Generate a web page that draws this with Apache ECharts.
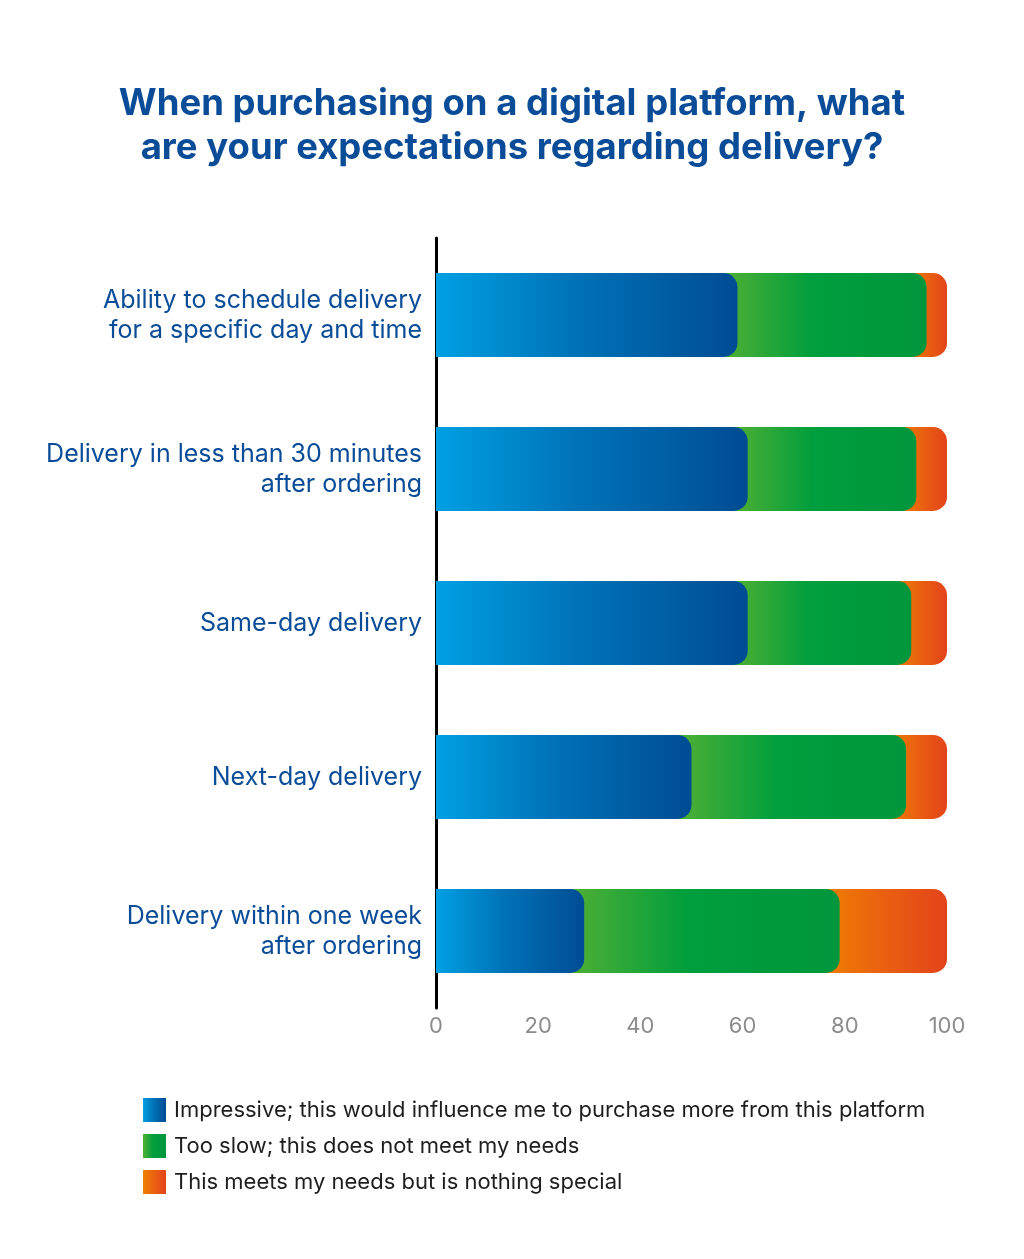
<!DOCTYPE html>
<html>
<head>
<meta charset="utf-8">
<script src="https://cdn.jsdelivr.net/npm/echarts@6/dist/echarts.min.js"></script>
<style>
  html, body { margin: 0; padding: 0; background: #fff; }
  #chart { width: 1024px; height: 1259px; }
</style>
</head>
<body>
<div id="chart"></div>
<script>
// delivery expectations survey, shares in percent
const categories = [
  'Ability to schedule delivery\nfor a specific day and time',
  'Delivery in less than 30 minutes\nafter ordering',
  'Same-day delivery',
  'Next-day delivery',
  'Delivery within one week\nafter ordering'
]
const impressive = [59, 61, 61, 50, 29]
const tooSlow = [37, 33, 32, 42, 50]
const meets = [4, 6, 7, 8, 21]
const xTicks = [0, 20, 40, 60, 80, 100]

const names = [
  'Impressive; this would influence me to purchase more from this platform',
  'Too slow; this does not meet my needs',
  'This meets my needs but is nothing special'
]

const FONT = 'Inter'

function grad (c0, c1, c2) {
  return new echarts.graphic.LinearGradient(0, 0, 1, 0, [
    { offset: 0, color: c0 },
    { offset: 0.45, color: c1 },
    { offset: 1, color: c2 }
  ])
}
const blueGrad = grad('#00a0e3', '#0073b8', '#004c93')
const greenGrad = grad('#52b034', '#009e3d', '#00963d')
const orangeGrad = grad('#f07f00', '#ea6310', '#e3431a')

// segments start..end, each later segment tucked under the rounded end of the one before
function segs (parts) {
  return categories.map((c, i) => {
    let start = 0
    for (let k = 0; k < parts.length - 1; k++) start += parts[k][i]
    return [i, start, start + parts[parts.length - 1][i]]
  })
}

const R = 14
function render (first) {
  return function (params, api) {
    const cat = api.value(0)
    const p0 = api.coord([api.value(1), cat])
    const p1 = api.coord([api.value(2), cat])
    const h = api.size([0, 1])[1] * 0.545
    const ext = first ? 0 : R + 4
    return {
      type: 'rect',
      shape: { x: p0[0] - ext, y: p0[1] - h / 2, width: p1[0] - p0[0] + ext, height: h, r: [0, R, R, 0] },
      style: api.style()
    }
  }
}

const chart = echarts.init(document.getElementById('chart'))
chart.setOption({
  animation: false,
  title: {
    text: 'When purchasing on a digital platform, what\nare your expectations regarding delivery?',
    left: 'center',
    top: 77,
    textStyle: {
      fontFamily: FONT,
      fontWeight: 'bold',
      fontSize: 36.5,
      lineHeight: 44,
      color: '#0a4c97'
    }
  },
  legend: {
    orient: 'vertical',
    left: 138,
    top: 1093,
    itemWidth: 23,
    itemHeight: 24,
    itemGap: 12,
    icon: 'rect',
    data: names,
    textStyle: { fontFamily: FONT, fontSize: 22, color: '#1e1e1e', padding: [0, 0, 0, 3] }
  },
  grid: { left: 436, right: 77, top: 238, height: 770 },
  xAxis: {
    type: 'value',
    min: 0,
    max: 100,
    interval: 20,
    axisLine: { show: false },
    axisTick: { show: false },
    splitLine: { show: false },
    axisLabel: {
      margin: 7,
      fontFamily: FONT,
      fontSize: 22,
      color: '#8c8c8c',
      formatter: v => (xTicks.indexOf(v) >= 0 ? String(v) : '')
    }
  },
  yAxis: {
    type: 'category',
    inverse: true,
    data: categories,
    axisLine: { show: true, lineStyle: { color: '#000', width: 3 } },
    axisTick: { show: false },
    axisLabel: {
      margin: 14,
      fontFamily: FONT,
      fontSize: 25,
      lineHeight: 30,
      color: '#0a4c97',
      align: 'right',
      padding: [5, 0, 0, 0]
    }
  },
  series: [
    {
      name: names[0], type: 'custom', z: 4,
      renderItem: render(true),
      itemStyle: { color: blueGrad },
      encode: { x: [1, 2], y: 0 },
      data: segs([impressive])
    },
    {
      name: names[1], type: 'custom', z: 3,
      renderItem: render(false),
      itemStyle: { color: greenGrad },
      encode: { x: [1, 2], y: 0 },
      data: segs([impressive, tooSlow])
    },
    {
      name: names[2], type: 'custom', z: 2,
      renderItem: render(false),
      itemStyle: { color: orangeGrad },
      encode: { x: [1, 2], y: 0 },
      data: segs([impressive, tooSlow, meets])
    }
  ]
})
</script>
</body>
</html>
